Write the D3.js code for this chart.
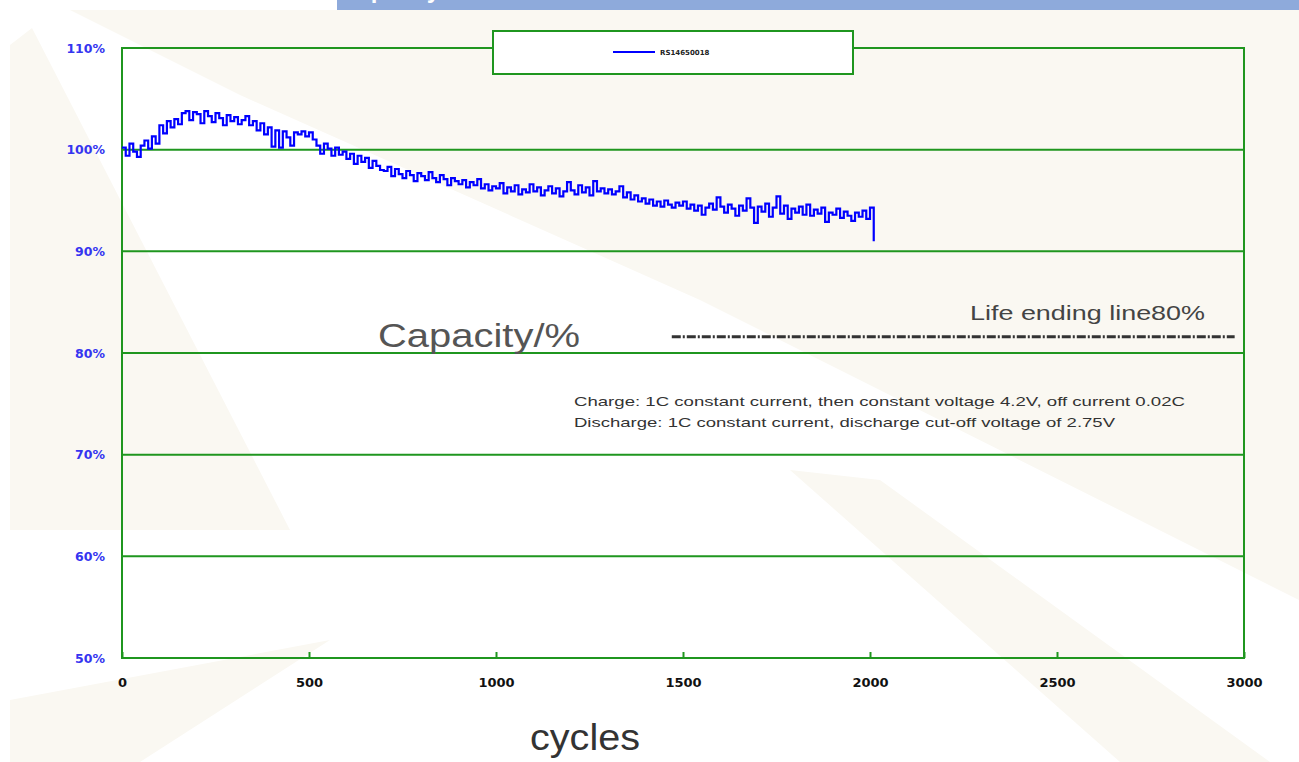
<!DOCTYPE html>
<html>
<head>
<meta charset="utf-8">
<script src="https://cdn.jsdelivr.net/npm/d3@7"></script>
<style>
  body { margin: 0; background: #fff; }
  svg { display: block; }
</style>
</head>
<body>
<svg id="chart" width="1299" height="762"></svg>
<script>
// capacity readings, one every 10 cycles starting at 0
const cycleStep = 10;
const capacity = [
  100.2, 99.4, 100.6, 99.8, 99.3, 100.4, 100.9, 100.1, 101.3, 100.6,
  102.4, 101.6, 102.8, 102.2, 103.0, 102.5, 103.6, 103.8, 102.9, 103.7,
  103.5, 102.6, 103.8, 103.3, 102.7, 103.6, 103.1, 102.4, 103.4, 102.8,
  103.2, 102.5, 102.9, 103.3, 102.4, 102.8, 101.9, 102.6, 101.5, 102.2,
  100.3, 101.9, 100.2, 101.8, 101.2, 100.4, 101.7, 101.5, 101.8, 101.3,
  101.7, 101.0, 100.4, 99.6, 100.6, 100.1, 99.4, 100.2, 99.5, 99.8,
  99.1, 99.6, 98.6, 99.4, 98.8, 99.2, 98.2, 98.9, 98.4, 98.0,
  97.9, 98.3, 97.4, 98.1, 97.6, 97.2, 97.9, 97.5, 96.9, 97.7,
  97.4, 97.0, 97.8, 97.2, 96.8, 97.5, 97.1, 96.5, 97.2, 96.9,
  96.6, 97.0, 96.3, 96.8, 96.5, 97.1, 96.2, 96.6, 96.0, 96.4,
  96.2, 96.7, 95.7, 96.3, 95.9, 96.5, 95.6, 96.1, 95.8, 96.6,
  95.9, 96.3, 95.5, 96.0, 96.4, 95.7, 96.2, 95.4, 95.9, 96.8,
  96.0, 95.6, 96.5, 95.8, 96.3, 95.5, 96.9, 95.9, 96.2, 95.7,
  96.1, 95.6, 95.9, 96.4, 95.3, 95.8, 95.1, 95.5, 94.9, 95.2,
  94.7, 95.1, 94.5, 94.9, 94.4, 95.0, 94.6, 94.3, 94.8, 94.5,
  94.9, 94.2, 94.6, 94.0, 94.5, 93.6, 94.3, 94.7, 94.1, 95.3,
  94.4, 93.8, 94.6, 94.2, 93.5, 94.5, 94.0, 95.2, 94.3, 92.8,
  94.4, 93.9, 94.7, 93.4, 94.3, 95.4, 93.7, 94.5, 93.2, 94.2,
  93.8, 94.4, 93.6, 94.6, 93.5, 94.1, 93.7, 94.3, 92.9, 93.8,
  93.6, 94.2, 93.3, 93.9, 93.5, 93.0, 93.8, 93.4, 94.0, 93.2,
  94.3, 91.0
];
const xTicks = [0, 500, 1000, 1500, 2000, 2500, 3000];
const yTicks = [50, 60, 70, 80, 90, 100, 110];
const lifeLine = { from: 1470, to: 2975, value: 81.6 };
const seriesName = "RS14650018";
const notes = [
  "Charge: 1C constant current, then constant voltage 4.2V, off current 0.02C",
  "Discharge: 1C constant current, discharge cut-off voltage of 2.75V"
];
const noteWidths = [611, 541];

const svg = d3.select("#chart");
const green = "#1f961f";
const plot = { left: 122, right: 1244, top: 48, bottom: 658 };

// faint background shapes
const bgShapes = [
  [[70, 10], [1299, 10], [1299, 600], [700, 300], [240, 95]],
  [[10, 45], [32, 28], [290, 530], [10, 530]],
  [[790, 470], [880, 480], [1270, 762], [1120, 762]],
  [[10, 700], [330, 640], [140, 762], [10, 762]]
];
svg.selectAll("polygon.bg")
  .data(bgShapes)
  .enter()
  .append("polygon")
  .attr("class", "bg")
  .attr("points", d => d.map(p => p.join(",")).join(" "))
  .attr("fill", "#faf8f2");

// header bar, title cut off at the top
svg.append("clipPath").attr("id", "barClip")
  .append("rect").attr("x", 337).attr("y", 0).attr("width", 962).attr("height", 10);
svg.append("rect")
  .attr("x", 337).attr("y", 0).attr("width", 962).attr("height", 10)
  .attr("fill", "#8eaadb");
svg.append("text")
  .attr("clip-path", "url(#barClip)")
  .attr("x", 340).attr("y", -2)
  .attr("fill", "#fff")
  .style("font", "bold 24px 'Liberation Sans', Arial, sans-serif")
  .text("Capacity");

const x = d3.scaleLinear().domain([0, 3000]).range([plot.left, plot.right]);
const y = d3.scaleLinear().domain([50, 110]).range([plot.bottom, plot.top]);

// horizontal grid
svg.append("g")
  .selectAll("line")
  .data(yTicks)
  .enter()
  .append("line")
  .attr("x1", plot.left).attr("x2", plot.right)
  .attr("y1", d => y(d)).attr("y2", d => y(d))
  .attr("stroke", green)
  .attr("stroke-width", 2);

svg.append("rect")
  .attr("x", plot.left).attr("y", plot.top)
  .attr("width", plot.right - plot.left).attr("height", plot.bottom - plot.top)
  .attr("fill", "none")
  .attr("stroke", green)
  .attr("stroke-width", 2);

// x axis
const xAxis = svg.append("g")
  .attr("transform", `translate(0, ${plot.bottom})`)
  .call(d3.axisBottom(x).tickValues(xTicks).tickFormat(d3.format("d"))
    .tickSizeInner(-6).tickSizeOuter(0).tickPadding(20));
xAxis.select(".domain").remove();
xAxis.selectAll("line").attr("stroke", green).attr("stroke-width", 2);
xAxis.selectAll("text")
  .attr("fill", "#111")
  .style("font", "bold 13px 'DejaVu Sans', sans-serif");

// y axis
const yAxis = svg.append("g")
  .attr("transform", `translate(${plot.left}, 0)`)
  .call(d3.axisLeft(y).tickValues(yTicks).tickSize(0).tickPadding(17).tickFormat(d => d + "%"));
yAxis.select(".domain").remove();
yAxis.selectAll("text")
  .attr("fill", "#3535f0")
  .style("font", "bold 12.5px 'DejaVu Sans', sans-serif");

// capacity series
const line = d3.line()
  .x((d, i) => x(i * cycleStep))
  .y(d => y(d))
  .curve(d3.curveStepAfter);
svg.append("path")
  .datum(capacity)
  .attr("d", line)
  .attr("fill", "none")
  .attr("stroke", "#0000ff")
  .attr("stroke-width", 2.2);

// life ending line
svg.append("line")
  .attr("x1", x(lifeLine.from)).attr("x2", x(lifeLine.to))
  .attr("y1", y(lifeLine.value)).attr("y2", y(lifeLine.value))
  .attr("stroke", "#333")
  .attr("stroke-width", 3)
  .attr("stroke-dasharray", "9,2,2,2");
svg.append("text")
  .attr("x", 970).attr("y", 320)
  .attr("fill", "#444")
  .attr("textLength", 235)
  .attr("lengthAdjust", "spacingAndGlyphs")
  .style("font", "21px 'Liberation Sans', Arial, sans-serif")
  .text("Life ending line80%");

svg.append("text")
  .attr("x", 378).attr("y", 347)
  .attr("fill", "#555")
  .attr("textLength", 202)
  .attr("lengthAdjust", "spacingAndGlyphs")
  .style("font", "33px 'Liberation Sans', Arial, sans-serif")
  .text("Capacity/%");

svg.append("text")
  .attr("x", 530).attr("y", 750)
  .attr("fill", "#333")
  .attr("textLength", 110)
  .attr("lengthAdjust", "spacingAndGlyphs")
  .style("font", "36px 'Liberation Sans', Arial, sans-serif")
  .text("cycles");

svg.append("g")
  .selectAll("text")
  .data(notes)
  .enter()
  .append("text")
  .attr("x", 574)
  .attr("y", (d, i) => 406 + i * 21)
  .attr("fill", "#333")
  .attr("textLength", (d, i) => noteWidths[i])
  .attr("lengthAdjust", "spacingAndGlyphs")
  .style("font", "13.5px 'Liberation Sans', Arial, sans-serif")
  .text(d => d);

// legend
const legend = svg.append("g");
legend.append("rect")
  .attr("x", 493).attr("y", 31).attr("width", 360).attr("height", 43)
  .attr("fill", "#fff")
  .attr("stroke", green)
  .attr("stroke-width", 2);
legend.append("line")
  .attr("x1", 613).attr("x2", 655).attr("y1", 52).attr("y2", 52)
  .attr("stroke", "#0000ff")
  .attr("stroke-width", 2);
legend.append("text")
  .attr("x", 660).attr("y", 55)
  .attr("fill", "#222")
  .style("font", "bold 7px 'DejaVu Sans', sans-serif")
  .text(seriesName);
</script>
</body>
</html>
